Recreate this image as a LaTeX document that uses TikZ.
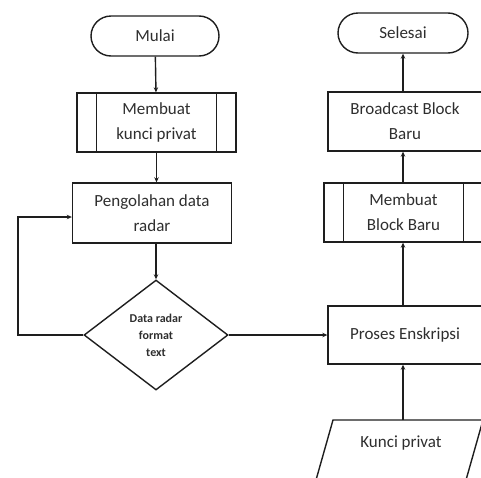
\documentclass[tikz,border=0pt]{standalone}
\usepackage{fontspec}
\setmainfont{Carlito}
\usetikzlibrary{shapes.misc,shapes.geometric,arrows.meta}
\definecolor{ink}{HTML}{1E1E1E}
\definecolor{txtc}{HTML}{2E2E2E}
\begin{document}
\begin{tikzpicture}[x=1pt,y=-1pt,
  every node/.style={font=\fontsize{17}{25}\selectfont, text=txtc, align=center, inner sep=0pt},
  base/.style={draw=ink, line width=1.4pt},
  term/.style={base, rounded rectangle, minimum height=40pt},
  procbox/.style={base, rectangle, minimum height=59pt},
  subproc/.style={procbox, append after command={
      \pgfextra{\let\subnode\tikzlastnode}
      ([xshift=20pt]\subnode.north west) edge[base] ([xshift=20pt]\subnode.south west)
      ([xshift=-20pt]\subnode.north east) edge[base] ([xshift=-20pt]\subnode.south east)}},
  decide/.style={base, diamond, minimum width=144pt, minimum height=110pt,
      font=\fontsize{12}{17}\selectfont\bfseries},
  flow/.style={draw=ink, line width=1.4pt, -{Stealth[length=5pt,width=4.5pt]}}
]
\useasboundingbox (0,0) rectangle (481,477);
\clip (0,0) rectangle (481,477);

% left column
\node[term, minimum width=128pt] (mulai) at (155,36) {Mulai};
\node[subproc, minimum width=159pt] (kunci) at (156.5,122.5) {Membuat\\kunci privat};
\node[procbox, minimum width=159pt, minimum height=60pt] (olah) at (152,213) {Pengolahan data\\radar};
\node[decide] (cek) at (156,335) {Data radar\\format\\text};

% right column
\node[term, minimum width=130pt] (selesai) at (403,33) {Selesai};
\node[procbox, minimum width=154pt] (bcast) at (405,121.5) {Broadcast Block\\Baru};
\node[subproc, minimum width=159pt] (mbb) at (403.5,212.5) {Membuat\\Block Baru};
\node[procbox, minimum width=154pt, minimum height=58pt, text height=12pt] (proses) at (405,335) {Proses Enskripsi};

% input parallelogram
\draw[base] (316,480) -- (333,420) -- (483,420) -- (466,480);
\coordinate (kptop) at (403,420);
\node (kptext) at (401,443) {Kunci privat};

% connectors
\draw[flow] (mulai) -- (kunci);
\draw[flow] (kunci) -- (olah.north -| kunci.south);
\draw[flow] (olah.south -| cek.north) -- (cek);
\coordinate (loop) at (18,217);
\draw[flow] (cek.west) -- (cek.west -| loop) -- (loop) -- (olah.west |- loop);
\draw[flow] (cek.east) -- (proses.west);
\draw[flow] (kptop) -- (kptop |- proses.south);
\draw[flow] (proses.north -| kptop) -- (mbb.south -| kptop);
\draw[flow] (mbb.north -| kptop) -- (bcast.south -| kptop);
\draw[flow] (bcast.north -| kptop) -- (selesai.south -| kptop);
\end{tikzpicture}
\end{document}
